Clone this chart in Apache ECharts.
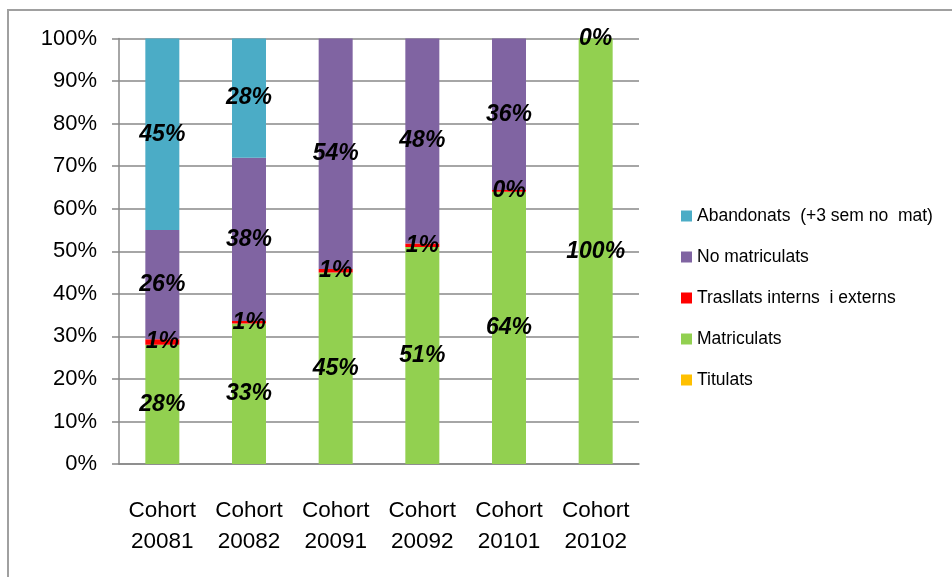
<!DOCTYPE html>
<html><head><meta charset="utf-8">
<script src="https://cdn.jsdelivr.net/npm/echarts@6/dist/echarts.min.js"></script>
<style>html,body{margin:0;padding:0;background:#fff}#c{width:952px;height:577px}</style>
</head><body><div id="c"></div>
<script>
const categories = ['Cohort\n20081','Cohort\n20082','Cohort\n20091','Cohort\n20092','Cohort\n20101','Cohort\n20102'];
const titulats = [0, 0, 0, 0, 0, 0];
const matriculats = [28, 33, 45, 51, 64, 100];
const trasllats = [1.3, 0.6, 0.8, 0.8, 0.4, 0];
const noMatriculats = [25.7, 38.4, 54.2, 48.2, 35.6, null];
const abandonats = [45, 28, null, null, null, null];
const yTicks = ['0%','10%','20%','30%','40%','50%','60%','70%','80%','90%','100%'];

const FONT = 'Liberation Sans';
const lbl = {show:true, position:'inside', fontFamily:FONT, fontSize:23, fontWeight:'bold', fontStyle:'italic', color:'#000',
  formatter: p => Math.round(p.value) + '%'};
function s(name, data, color, showLabel){
  return {name, type:'bar', stack:'t', data, barWidth:34, itemStyle:{color},
    label: showLabel ? lbl : {show:false}, emphasis:{disabled:true}};
}
const chart = echarts.init(document.getElementById('c'), null, {renderer:'canvas'});
chart.setOption({
  animation:false,
  graphic:[{type:'rect', shape:{x:8, y:10, width:1200, height:1200}, style:{fill:'none', stroke:'#a0a0a0', lineWidth:2}, z:-10}],
  grid:{left:119, right:313, top:38.5, bottom:113},
  legend:{orient:'vertical', left:681, top:206, padding:0, itemWidth:11, itemHeight:11, itemGap:21,
    icon:'rect', textStyle:{fontFamily:FONT, fontSize:17.5, color:'#000', lineHeight:20},
    data:['Abandonats  (+3 sem no  mat)','No matriculats','Trasllats interns  i externs','Matriculats','Titulats'],
    selectedMode:false},
  xAxis:{type:'category', data:categories,
    axisLine:{lineStyle:{color:'#888', width:1.5}},
    axisTick:{length:8, lineStyle:{color:'#888', width:1.5}},
    axisLabel:{interval:0, fontFamily:FONT, fontSize:22.5, color:'#000', lineHeight:31, margin:31}},
  yAxis:{type:'value', min:0, max:100, interval:10,
    axisLine:{show:true, lineStyle:{color:'#888', width:1.5}},
    axisTick:{show:true, length:7, lineStyle:{color:'#888', width:1.5}},
    splitLine:{lineStyle:{color:'#888', width:1.5}},
    axisLabel:{fontFamily:FONT, fontSize:22, color:'#000', margin:22,
      formatter: (v) => yTicks[Math.round(v/10)]}},
  series:[
    s('Titulats', titulats, '#FFC000', false),
    s('Matriculats', matriculats, '#92D050', true),
    s('Trasllats interns  i externs', trasllats, '#FF0000', true),
    s('No matriculats', noMatriculats, '#8064A2', true),
    s('Abandonats  (+3 sem no  mat)', abandonats, '#4BACC6', true)
  ]
});
</script></body></html>
